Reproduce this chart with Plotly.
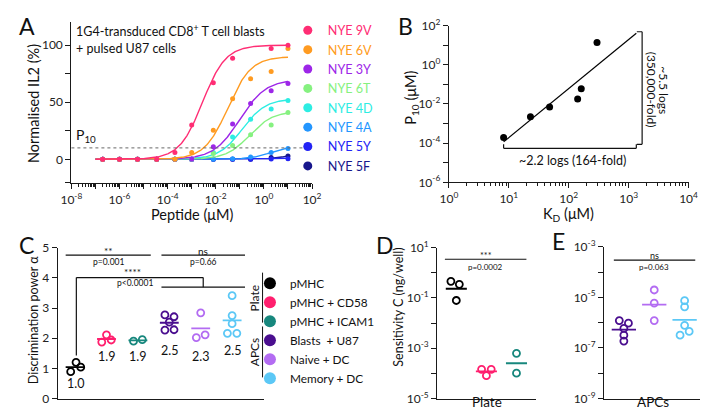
import numpy as np
import plotly.graph_objects as go

W, H = 708, 411
FONT = "Lato"

# ---------------- Panel A data ----------------
peptides = ["NYE 9V", "NYE 6V", "NYE 3Y", "NYE 6T", "NYE 4D", "NYE 4A", "NYE 5Y", "NYE 5F"]
pep_colors = ["#FF2D74", "#FF9B21", "#9D26E8", "#86F180", "#2DEDE3", "#2396FF", "#2323F5", "#17168C"]
conc_uM = [10, 2.0, 0.28, 0.05, 0.0079, 0.001, 2.0e-4, 3.5e-5, 5.6e-6, 1.0e-6, 2.0e-7]
il2_9V = [100, 97, None, 88.5, 67, 30, 6, 0, 0, 0, 0]
il2_6V = [97, 77, 70.6, 53, 25.5, 6, 0, 0, 0, 0, 0]
il2_3Y = [66.5, 60, 49, 31, 11, 0, 0, 0, 0, 0, 0]
il2_6T = [41, 30, 21.5, 12, 5, 0, 0, 0, 0, 0, 0]
il2_4D = [51.5, 44, 35, 19.5, 6, 0, 0, 0, 0, 0, 0]
il2_4A = [9.5, 6, 2, 0.5, 0, 0, 0, 0, 0, 0, 0]
il2_5Y = [0.5, 0.3, 0, 0, 0, 0, 0, 0, 0, 0, 0]
il2_5F = [3, 1.5, 0, 0, 0, 0, 0, 0, 0, 0, 0]
il2_all = [il2_9V, il2_6V, il2_3Y, il2_6T, il2_4D, il2_4A, il2_5Y, il2_5F]
# dose-response fit parameters (top %, log10 EC50 uM, Hill slope)
fit_top = [100, 90, 70, 42, 53, 12, 1, 6]
fit_logec50 = [-2.55, -1.5, -1.0, -0.6, -0.9, 0.3, 0.0, 1.0]
fit_hill = [0.9, 0.9, 0.8, 0.9, 0.9, 1.0, 1.0, 1.2]
fit_conc_range = [1e-7, 10]
p10_level = 10

# ---------------- Panel B data ----------------
kd_uM = [8.2, 23, 48, 141, 162, 297]
p10_uM = [1.95e-4, 2.24e-3, 7.1e-3, 1.8e-2, 6.0e-2, 13.8]
kd_fold = 164

# ---------------- Panel C data ----------------
conditions = ["pMHC", "pMHC + CD58", "pMHC + ICAM1", "Blasts  + U87", "Naive + DC", "Memory + DC"]
cond_colors = ["#000000", "#FF1F6E", "#17877D", "#4A0E8F", "#B36CF2", "#5CC8F6"]
alpha_vals = [
    [0.89, 1.20, 1.04],
    [1.87, 2.11, 1.94],
    [1.90, 1.95],
    [2.77, 2.71, 2.53, 2.27, 2.28],
    [2.84, 2.02, 2.11],
    [3.41, 2.75, 2.48, 2.16, 2.16],
]
alpha_labels = ["1.0", "1.9", "1.9", "2.5", "2.3", "2.5"]
jit_C = [
    [-0.14, 0.03, 0.18],
    [-0.15, 0.0, 0.15],
    [-0.14, 0.14],
    [-0.14, 0.15, 0.0, -0.14, 0.15],
    [0.0, -0.14, 0.14],
    [0.0, 0.0, 0.0, -0.15, 0.15],
]

# ---------------- Panel D data ----------------
sens_plate = [
    [0.457, 0.347, 0.0794],
    [1.45e-4, 8.1e-5, 1.45e-4],
    [6.3e-4, 1.02e-4],
]
jit_D = [[-0.18, 0.1, 0.0], [-0.16, 0.0, 0.16], [0.0, 0.0]]

# ---------------- Panel E data ----------------
sens_apc = [
    [1.2e-6, 9.5e-7, 5.9e-7, 3.2e-7, 1.86e-7],
    [1.95e-5, 5.9e-6, 1.2e-6],
    [7.4e-6, 4.2e-6, 7.8e-7, 4.5e-7, 3.2e-7],
]
jit_E = [[-0.15, 0.15, 0.0, 0.0, 0.0], [0.0, 0.0, 0.0], [0.0, 0.0, 0.0, 0.15, -0.15]]


def fx(px):
    return px / W


def fy(py):
    return 1 - py / H


fig = go.Figure()

# ---------- Panel A traces (drawn in reverse so 9V is on top) ----------
xs_fit = np.logspace(np.log10(fit_conc_range[0]), np.log10(fit_conc_range[1]), 300)
for i in reversed(range(len(peptides))):
    y_fit = fit_top[i] / (1 + 10 ** ((fit_logec50[i] - np.log10(xs_fit)) * fit_hill[i]))
    fig.add_trace(go.Scatter(x=xs_fit, y=y_fit, mode="lines", line=dict(color=pep_colors[i], width=1.4),
                             xaxis="x", yaxis="y", showlegend=False, hoverinfo="skip"))
    fig.add_trace(go.Scatter(x=conc_uM, y=il2_all[i], mode="markers",
                             marker=dict(color=pep_colors[i], size=5),
                             xaxis="x", yaxis="y", showlegend=False))
for i in range(len(peptides)):
    fig.add_trace(go.Scatter(x=[None], y=[None], mode="markers", marker=dict(color=pep_colors[i], size=9),
                             name="<span style='color:%s'>%s</span>" % (pep_colors[i], peptides[i]),
                             xaxis="x", yaxis="y", legend="legend", showlegend=True))

# ---------- Panel B ----------
lkd = np.log10(kd_uM)
lp = np.log10(p10_uM)
slope, icpt = np.polyfit(lkd, lp, 1)
line_x = np.array([min(kd_uM), min(kd_uM) * kd_fold])
line_y = 10 ** (icpt + slope * np.log10(line_x))
fig.add_trace(go.Scatter(x=line_x, y=line_y, mode="lines", line=dict(color="black", width=1.2),
                         xaxis="x2", yaxis="y2", showlegend=False))
fig.add_trace(go.Scatter(x=kd_uM, y=p10_uM, mode="markers", marker=dict(color="black", size=7),
                         xaxis="x2", yaxis="y2", showlegend=False))

# ---------- Panel C ----------
for g, vals in enumerate(alpha_vals):
    xs = [g + j for j in jit_C[g]]
    m = float(np.mean(vals))
    fig.add_trace(go.Scatter(x=[g - 0.3, g + 0.3], y=[m, m], mode="lines",
                             line=dict(color=cond_colors[g], width=1.8),
                             xaxis="x3", yaxis="y3", showlegend=False))
    fig.add_trace(go.Scatter(x=xs, y=vals, mode="markers",
                             marker=dict(symbol="circle-open", color=cond_colors[g], size=7,
                                         line=dict(width=1.8, color=cond_colors[g])),
                             xaxis="x3", yaxis="y3", showlegend=False))
for g in range(len(conditions)):
    fig.add_trace(go.Scatter(x=[None], y=[None], mode="markers", marker=dict(color=cond_colors[g], size=12),
                             name=conditions[g], xaxis="x3", yaxis="y3", legend="legend2", showlegend=True))

# ---------- Panel D ----------
for g, vals in enumerate(sens_plate):
    xs = [g + j for j in jit_D[g]]
    m = 10 ** float(np.mean(np.log10(vals)))
    fig.add_trace(go.Scatter(x=[g - 0.35, g + 0.35], y=[m, m], mode="lines",
                             line=dict(color=cond_colors[g], width=1.8),
                             xaxis="x4", yaxis="y4", showlegend=False))
    fig.add_trace(go.Scatter(x=xs, y=vals, mode="markers",
                             marker=dict(symbol="circle-open", color=cond_colors[g], size=7,
                                         line=dict(width=1.8, color=cond_colors[g])),
                             xaxis="x4", yaxis="y4", showlegend=False))

# ---------- Panel E ----------
for g, vals in enumerate(sens_apc):
    c = cond_colors[g + 3]
    xs = [g + j for j in jit_E[g]]
    m = 10 ** float(np.mean(np.log10(vals)))
    fig.add_trace(go.Scatter(x=[g - 0.4, g + 0.4], y=[m, m], mode="lines",
                             line=dict(color=c, width=1.8),
                             xaxis="x5", yaxis="y5", showlegend=False))
    fig.add_trace(go.Scatter(x=xs, y=vals, mode="markers",
                             marker=dict(symbol="circle-open", color=c, size=7,
                                         line=dict(width=1.8, color=c)),
                             xaxis="x5", yaxis="y5", showlegend=False))

AX = dict(showline=True, linecolor="#1a1a1a", linewidth=1.3, ticks="outside", ticklen=5,
          tickwidth=1.2, tickcolor="#1a1a1a", showgrid=False, zeroline=False,
          tickfont=dict(family=FONT, size=12, color="#222"))


def sup(d):
    return "10<sup>%d</sup>" % d


def minor_vals(lo, hi):
    return [k * 10.0 ** d for d in range(lo, hi) for k in range(2, 10)]


fig.update_layout(
    # A axes
    xaxis=dict(AX, type="log", domain=[fx(54), fx(302)], range=[-8, 2], anchor="y",
               tickmode="array", tickvals=[10.0 ** d for d in range(-8, 3)],
               ticktext=[sup(d) if d % 2 == 0 else "" for d in range(-8, 3)],
               minor=dict(tickmode="array", tickvals=minor_vals(-8, 2), ticks="outside", ticklen=3,
                          tickwidth=1, tickcolor="#1a1a1a")),
    yaxis=dict(AX, domain=[fy(173), fy(5)], range=[-21, 120.5], anchor="x",
               tickmode="array", tickvals=[-20, 0, 25, 50, 75, 100],
               ticktext=["", "0", "", "50", "", "100"]),
    # B axes
    xaxis2=dict(AX, type="log", domain=[fx(443), fx(690)], range=[0, 4], anchor="y2",
                tickmode="array", tickvals=[10.0 ** d for d in range(0, 5)],
                ticktext=[sup(d) for d in range(0, 5)],
                minor=dict(tickmode="array", tickvals=minor_vals(0, 4), ticks="outside", ticklen=3,
                           tickwidth=1, tickcolor="#1a1a1a")),
    yaxis2=dict(AX, type="log", domain=[fy(172), fy(9)], range=[-6, 2], anchor="x2",
                tickmode="array", tickvals=[10.0 ** d for d in range(-6, 3)],
                ticktext=[sup(d) if d % 2 == 0 else "" for d in range(-6, 3)]),
    # C axes
    xaxis3=dict(AX, domain=[fx(40), fx(252)], range=[-0.55, 6.0], anchor="y3",
                ticks="", showticklabels=False),
    yaxis3=dict(AX, domain=[fy(397), fy(240)], range=[0, 5], anchor="x3",
                tickmode="array", tickvals=[0, 1, 2, 3, 4, 5]),
    # D axes
    xaxis4=dict(AX, domain=[fx(431), fx(533)], range=[-0.635, 2.655], anchor="y4",
                ticks="", showticklabels=False),
    yaxis4=dict(AX, type="log", domain=[fy(397), fy(240)], range=[-5, 1], anchor="x4",
                tickmode="array", tickvals=[10.0 ** d for d in range(-5, 2)],
                ticktext=[sup(d) if d % 2 != 0 else "" for d in range(-5, 2)]),
    # E axes
    xaxis5=dict(AX, domain=[fx(603), fx(706)], range=[-0.65, 2.64], anchor="y5",
                ticks="", showticklabels=False),
    yaxis5=dict(AX, type="log", domain=[fy(397), fy(239)], range=[-9, -3], anchor="x5",
                tickmode="array", tickvals=[10.0 ** d for d in range(-9, -2)],
                ticktext=[sup(d) if d % 2 != 0 else "" for d in range(-9, -2)]),
)

shapes = []
ann = []


def A(text, x, y, size=12, xanchor="center", yanchor="middle", angle=0, color="#111", xref="paper",
      yref="paper", align="center"):
    ann.append(dict(text=text, x=x, y=y, xref=xref, yref=yref, showarrow=False, xanchor=xanchor,
                    yanchor=yanchor, textangle=angle, align=align, borderpad=0,
                    font=dict(family=FONT, size=size, color=color)))


def L(x0, y0, x1, y1, xref, yref, width=1.2, dash=None, color="#111"):
    shapes.append(dict(type="line", x0=x0, y0=y0, x1=x1, y1=y1, xref=xref, yref=yref,
                       line=dict(color=color, width=width, dash=dash) if dash else dict(color=color, width=width)))


# Panel letters
A("A", fx(8), fy(9), size=23)
A("B", fx(398), fy(9), size=23)
A("C", fx(8), fy(237), size=23)
A("D", fx(377), fy(237), size=23)
A("E", fx(556), fy(233), size=23)

# Panel A texts
A("1G4-transduced CD8<sup>+</sup> T cell blasts<br>+ pulsed U87 cells", fx(58), fy(4), size=12.5,
  xanchor="left", yanchor="top", align="left")
A("Normalised IL2 (%)", fx(15), fy(90), size=14.5, angle=-90)
A("Peptide (μM)", fx(178), fy(206), size=14.5)
A("P<sub>10</sub>", fx(58), fy(134), size=14, xanchor="left", yanchor="bottom")
L(0, p10_level, 1, p10_level, "x domain", "y", width=1, dash="dot", color="#666")

# Panel B texts
A("P<sub>10</sub> (μM)", fx(405), fy(84), size=14.5, angle=-90)
A("K<sub>D</sub> (μM)", fx(566), fy(205), size=14.5)
kd_lo, kd_hi = min(kd_uM), min(kd_uM) * kd_fold
yb = 10 ** (np.log10(line_y[0]) - 0.33)
L(kd_lo, yb, kd_hi, yb, "x2", "y2")
L(kd_lo, yb, kd_lo, yb * 1.6, "x2", "y2")
L(kd_hi, yb, kd_hi, yb * 1.6, "x2", "y2")
A("~2.2 logs (164-fold)", np.log10(np.sqrt(kd_lo * kd_hi)) + 0.05, np.log10(yb) - 0.62, size=12.5,
  xref="x2", yref="y2")
xv = kd_hi * 1.25
yv0, yv1 = yb * 1.6, line_y[1] * 1.2
L(xv, yv0, xv, yv1, "x2", "y2")
L(kd_hi * 1.02, yv0, xv, yv0, "x2", "y2")
L(kd_hi * 1.02, yv1, xv, yv1, "x2", "y2")
ymid = (np.log10(yv0) + np.log10(yv1)) / 2
A("(350,000-fold)", np.log10(xv) + 0.17, ymid - 0.1, size=12, angle=90, xref="x2", yref="y2")
A("~5.5 logs", np.log10(xv) + 0.36, ymid - 0.1, size=12, angle=90, xref="x2", yref="y2")

# Panel C texts
A("Discrimination power α", fx(15), fy(316), size=12.5, angle=-90)
for g, lab in enumerate(alpha_labels):
    ylab = [0.5, 1.4, 1.4, 1.6, 1.4, 1.6][g]
    A(lab, g, ylab, size=12.5, xref="x3", yref="y3")
L(-0.30, 4.75, 2.41, 4.75, "x3", "y3")
L(2.75, 4.75, 5.41, 4.75, "x3", "y3")
A("**", 1.05, 4.89, size=10, xref="x3", yref="y3")
A("p=0.001", 1.05, 4.52, size=8.5, xref="x3", yref="y3")
A("ns", 4.08, 4.9, size=10, xref="x3", yref="y3")
A("p=0.66", 4.08, 4.52, size=8.5, xref="x3", yref="y3")
L(0.04, 1.43, 0.04, 4.01, "x3", "y3")
L(0.04, 4.01, 4.08, 4.01, "x3", "y3")
L(4.08, 4.01, 4.08, 3.69, "x3", "y3")
L(2.75, 3.69, 5.41, 3.69, "x3", "y3")
A("****", 1.83, 4.2, size=10, xref="x3", yref="y3")
A("p<0.0001", 1.92, 3.83, size=8.5, xref="x3", yref="y3")
L(fx(251), fy(266), fx(251), fy(318), "paper", "paper", width=1)
L(fx(251), fy(322), fx(251), fy(375), "paper", "paper", width=1)
A("Plate", fx(243), fy(292), size=12, angle=-90)
A("APCs", fx(243), fy(348), size=12, angle=-90)

# Panel D texts
A("Sensitivity C (ng/well)", fx(391), fy(302), size=12.5, angle=-90)
A("Plate", fx(482), fy(410), size=13.5, yanchor="bottom")
L(-0.38, 10 ** 0.54, 2.33, 10 ** 0.54, "x4", "y4")
A("***", 0.98, 0.70, size=9, xref="x4", yref="y4")
A("p=0.0002", 0.98, 0.25, size=8, xref="x4", yref="y4")

# Panel E texts
A("APCs", fx(653), fy(410), size=13.5, yanchor="bottom")
L(-0.33, 10 ** -3.53, 2.35, 10 ** -3.53, "x5", "y5")
A("ns", 1.0, -3.33, size=9, xref="x5", yref="y5")
A("p=0.063", 1.0, -3.8, size=8, xref="x5", yref="y5")

fig.update_layout(
    width=W, height=H, margin=dict(l=0, r=0, t=0, b=0),
    paper_bgcolor="white", plot_bgcolor="white",
    font=dict(family=FONT, size=12, color="#111"),
    shapes=shapes, annotations=ann,
    legend=dict(x=fx(277), y=fy(-1.5), xanchor="left", yanchor="top", bgcolor="rgba(0,0,0,0)",
                font=dict(family=FONT, size=12.6), tracegroupgap=0, borderwidth=0),
    legend2=dict(x=fx(238), y=fy(262), xanchor="left", yanchor="top", bgcolor="rgba(0,0,0,0)",
                 font=dict(family=FONT, size=11.8, color="#111"), tracegroupgap=0, borderwidth=0),
)

fig.write_html("out.html")
